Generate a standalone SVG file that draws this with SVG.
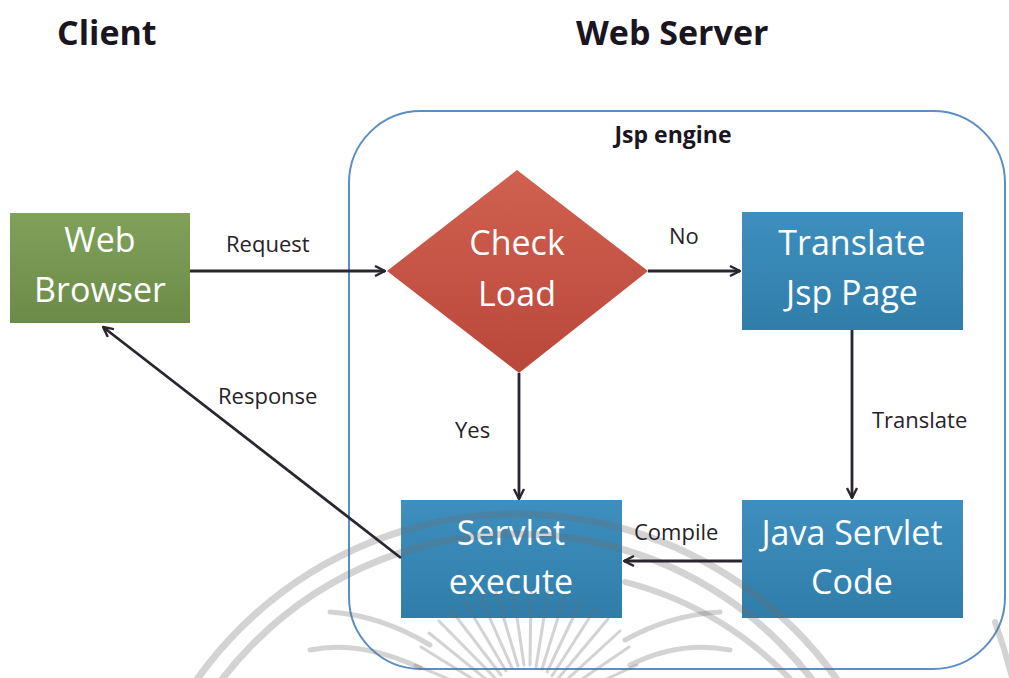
<svg xmlns="http://www.w3.org/2000/svg" width="1009" height="678" viewBox="0 0 1009 678">
  <defs>
    <linearGradient id="gGreen" x1="0" y1="0" x2="0" y2="1">
      <stop offset="0" stop-color="#80a15a"/>
      <stop offset="1" stop-color="#6b8b48"/>
    </linearGradient>
    <linearGradient id="gRed" x1="0" y1="0" x2="0" y2="1">
      <stop offset="0" stop-color="#d0604f"/>
      <stop offset="1" stop-color="#b9483b"/>
    </linearGradient>
    <linearGradient id="gBlue" x1="0" y1="0" x2="0" y2="1">
      <stop offset="0" stop-color="#3e8fbf"/>
      <stop offset="1" stop-color="#307da9"/>
    </linearGradient>
    <marker id="arrow" viewBox="0 0 12 12" refX="11" refY="6" markerWidth="12" markerHeight="12" markerUnits="userSpaceOnUse" orient="auto">
      <path d="M1,1 L11,6 L1,11" fill="none" stroke="#2b2530" stroke-width="2.4" stroke-linejoin="miter"/>
    </marker>
  </defs>
  <style>
    .title { font-family: "Open Sans", "Liberation Sans", sans-serif; font-weight: bold; font-size: 34px; fill: #1a1520; }
    .node-text { font-family: "Open Sans", "Liberation Sans", sans-serif; font-size: 34px; fill: #ffffff; text-anchor: middle; }
    .label { font-family: "Open Sans", "Liberation Sans", sans-serif; font-size: 22px; fill: #262228; }
    .conn { fill: none; stroke: #2b2530; stroke-width: 2.8; marker-end: url(#arrow); }
    .mark { fill: none; stroke: #6e6e6e; stroke-opacity: 0.3; stroke-linecap: round; }
  </style>

  <rect x="0" y="0" width="1009" height="678" fill="#ffffff"/>

  <!-- headings -->
  <text class="title" x="57" y="45">Client</text>
  <text class="title" x="576" y="45">Web Server</text>

  <!-- JSP engine container -->
  <g id="jsp-engine">
    <rect x="349" y="111" width="656" height="558" rx="72" ry="72" fill="none" stroke="#5b8ec6" stroke-width="2"/>
    <text x="673" y="143" text-anchor="middle" style="font-family: 'Open Sans', 'Liberation Sans', sans-serif; font-weight: bold; font-size: 23px; fill: #1a1520;">Jsp engine</text>
  </g>

  <g id="web-browser">
    <rect x="10" y="213" width="180" height="110" fill="url(#gGreen)"/>
    <text class="node-text" x="100" y="252">Web</text>
    <text class="node-text" x="100" y="302">Browser</text>
  </g>

  <g id="check-load">
    <polygon points="517,170 648,271 519,373 387,271" fill="url(#gRed)"/>
    <text class="node-text" x="517" y="255">Check</text>
    <text class="node-text" x="517" y="306">Load</text>
  </g>

  <g id="translate-jsp-page">
    <rect x="742" y="212" width="221" height="118" fill="url(#gBlue)"/>
    <text class="node-text" x="852" y="255">Translate</text>
    <text class="node-text" x="852" y="305">Jsp Page</text>
  </g>

  <g id="servlet-execute">
    <rect x="401" y="500" width="221" height="118" fill="url(#gBlue)"/>
    <text class="node-text" x="511" y="545">Servlet</text>
    <text class="node-text" x="511" y="594">execute</text>
  </g>

  <g id="java-servlet-code">
    <rect x="742" y="500" width="221" height="118" fill="url(#gBlue)"/>
    <text class="node-text" x="852" y="545">Java Servlet</text>
    <text class="node-text" x="852" y="594">Code</text>
  </g>

  <!-- faint seal laid over the lower part -->
  <g id="seal">
    <circle class="mark" cx="517" cy="906" r="392" stroke-width="7"/>
    <circle class="mark" cx="517" cy="906" r="372" stroke-width="7"/>
    <path class="mark" stroke-width="6" d="M 625 582 A 345 345 0 0 1 800 690"/>
    <path class="mark" stroke-width="6" d="M 995 622 A 560 560 0 0 1 1015 690"/>
    <g transform="translate(525 705)" stroke-width="3">
      <path class="mark" d="M -38 -10 L -110 -40"/>
      <path class="mark" d="M -36 -16 L -104 -58"/>
      <path class="mark" d="M -33 -21 L -96 -72"/>
      <path class="mark" d="M -29 -26 L -86 -84"/>
      <path class="mark" d="M -24 -30 L -74 -95"/>
      <path class="mark" d="M -19 -34 L -60 -103"/>
      <path class="mark" d="M -13 -37 L -45 -109"/>
      <path class="mark" d="M -7 -39 L -29 -113"/>
      <path class="mark" d="M -1 -40 L -12 -115"/>
      <path class="mark" d="M 5 -40 L 6 -115"/>
      <path class="mark" d="M 11 -38 L 23 -113"/>
      <path class="mark" d="M 17 -36 L 40 -110"/>
      <path class="mark" d="M 22 -33 L 56 -104"/>
      <path class="mark" d="M 27 -29 L 70 -96"/>
      <path class="mark" d="M 31 -24 L 83 -86"/>
      <path class="mark" d="M 35 -19 L 95 -74"/>
      <path class="mark" d="M 38 -13 L 104 -58"/>
      <path class="mark" d="M 40 -7 L 112 -40"/>
    </g>
    <path class="mark" stroke-width="5" d="M 310 650 Q 360 640 420 668"/>
    <path class="mark" stroke-width="5" d="M 330 612 Q 380 615 430 645"/>
    <path class="mark" stroke-width="5" d="M 730 650 Q 680 640 630 665"/>
    <path class="mark" stroke-width="5" d="M 720 612 Q 670 615 625 640"/>
  </g>

  <!-- connectors -->
  <g id="connectors">
    <line class="conn" x1="190" y1="271" x2="385" y2="271"/>
    <line class="conn" x1="648" y1="271" x2="740" y2="271"/>
    <line class="conn" x1="519" y1="373" x2="519" y2="499"/>
    <line class="conn" x1="852" y1="330" x2="852" y2="498"/>
    <line class="conn" x1="742" y1="561" x2="624" y2="561"/>
    <line class="conn" x1="401" y1="558" x2="103" y2="327"/>
    <text class="label" x="226" y="252">Request</text>
    <text class="label" x="669" y="244">No</text>
    <text class="label" x="455" y="438">Yes</text>
    <text class="label" x="872" y="428">Translate</text>
    <text class="label" x="634" y="540">Compile</text>
    <text class="label" x="218" y="404">Response</text>
  </g>
</svg>
